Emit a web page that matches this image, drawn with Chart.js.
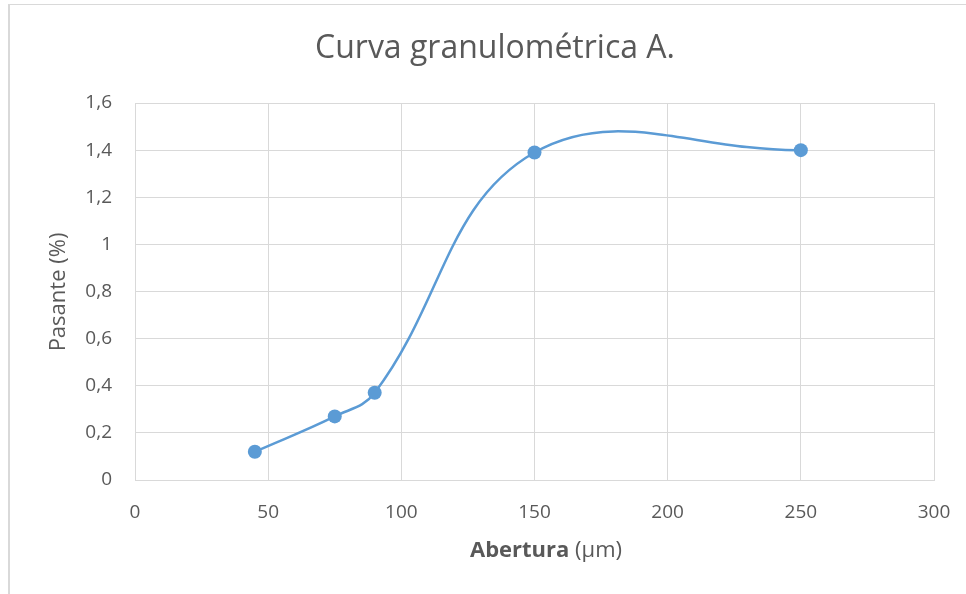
<!DOCTYPE html>
<html>
<head>
<meta charset="utf-8">
<script src="https://cdn.jsdelivr.net/npm/chart.js@4/dist/chart.umd.min.js"></script>
<style>
    html, body { margin: 0; padding: 0; background: #fff; overflow: hidden; }
    #marco {
        position: absolute; left: 8px; top: 4px;
        width: 970px; height: 600px;
        border-left: 2px solid #D9D9D9;
        border-top: 1px solid #D9D9D9;
    }
</style>
</head>
<body>
<div id="marco"><canvas id="curvaChart" width="970" height="600"></canvas></div>
<script>
// Datos de la curva
const aberturas = [45, 75, 90, 150, 250];          // um
const pasante = [0.12, 0.27, 0.37, 1.39, 1.40];    // %

const X_MIN = 0, X_MAX = 300, X_STEP = 50;
const Y_MIN = 0, Y_MAX = 1.6, Y_STEP = 0.2;

const TITULO = 'Curva granulométrica A.';
const TITULO_Y = 'Pasante (%)';
const TITULO_X_NEGRITA = 'Abertura ';
const TITULO_X_NORMAL = '(μm)';

(function() {
    'use strict';

    const FONT = "'Open Sans', 'Noto Sans', sans-serif";
    const GRIS_TEXTO = '#595959';
    const GRIS_GRILLA = '#D9D9D9';
    const AZUL = '#5B9BD5';

    // Textos: titulo y titulos de ejes (el de X mezcla negrita y normal)
    const textosPlugin = {
        id: 'textos',
        afterDraw: function(chart){
            var ctx = chart.ctx;
            ctx.save();
            ctx.fillStyle = GRIS_TEXTO;

            ctx.font = "32px " + FONT;
            ctx.textAlign = 'center';
            ctx.textBaseline = 'alphabetic';
            ctx.fillText(TITULO, 485, 53);

            // eje Y rotado
            ctx.save();
            ctx.translate(49, 287);
            ctx.rotate(-Math.PI / 2);
            ctx.font = "22px " + FONT;
            ctx.textBaseline = 'middle';
            ctx.fillText(TITULO_Y, 0, 0);
            ctx.restore();

            // eje X
            ctx.textAlign = 'left';
            ctx.font = "bold 22px " + FONT;
            var w1 = ctx.measureText(TITULO_X_NEGRITA).width;
            ctx.font = "22px " + FONT;
            var w2 = ctx.measureText(TITULO_X_NORMAL).width;
            var x0 = 536 - (w1 + w2) / 2;
            ctx.font = "bold 22px " + FONT;
            ctx.fillText(TITULO_X_NEGRITA, x0, 552);
            ctx.font = "22px " + FONT;
            ctx.fillText(TITULO_X_NORMAL, x0 + w1, 552);
            ctx.restore();
        }
    };

    _init();

    function _init(){
        var points = [];
        for (var i = 0; i < aberturas.length; i++) {
            points.push({ x: aberturas[i], y: pasante[i] });
        }
        new Chart(document.getElementById('curvaChart'), _configChart(points));
    }

    function _formatoComa(value){
        return parseFloat(value.toFixed(2)).toString().replace('.', ',');
    }

    function _configChart(points){
        return {
            type: 'scatter',
            data: {
                datasets: [{
                    label: TITULO,
                    data: points,
                    showLine: true,
                    tension: 0.4,
                    borderColor: AZUL,
                    borderWidth: 2.5,
                    backgroundColor: AZUL,
                    pointRadius: 7,
                    pointBorderWidth: 0,
                    pointHoverRadius: 7
                }]
            },
            options: {
                responsive: false,
                animation: false,
                devicePixelRatio: 1,
                layout: { padding: { left: 0, top: 98, right: 46, bottom: 0 } },
                plugins: {
                    legend: { display: false },
                    title: { display: false },
                    tooltip: { enabled: false }
                },
                scales: {
                    x: {
                        type: 'linear',
                        min: X_MIN, max: X_MAX,
                        afterFit: function(scale){ scale.height = 125; },
                        ticks: {
                            stepSize: X_STEP,
                            padding: 21,
                            color: GRIS_TEXTO,
                            font: { family: FONT, size: 19 }
                        },
                        grid: { color: GRIS_GRILLA, lineWidth: 1, drawTicks: false },
                        border: { color: GRIS_GRILLA, width: 1 }
                    },
                    y: {
                        type: 'linear',
                        min: Y_MIN, max: Y_MAX,
                        afterFit: function(scale){ scale.width = 125; },
                        ticks: {
                            stepSize: Y_STEP,
                            padding: 23,
                            color: GRIS_TEXTO,
                            font: { family: FONT, size: 19 },
                            callback: _formatoComa
                        },
                        grid: { color: GRIS_GRILLA, lineWidth: 1, drawTicks: false },
                        border: { color: GRIS_GRILLA, width: 1 }
                    }
                }
            },
            plugins: [textosPlugin]
        };
    }
})();
</script>
</body>
</html>
